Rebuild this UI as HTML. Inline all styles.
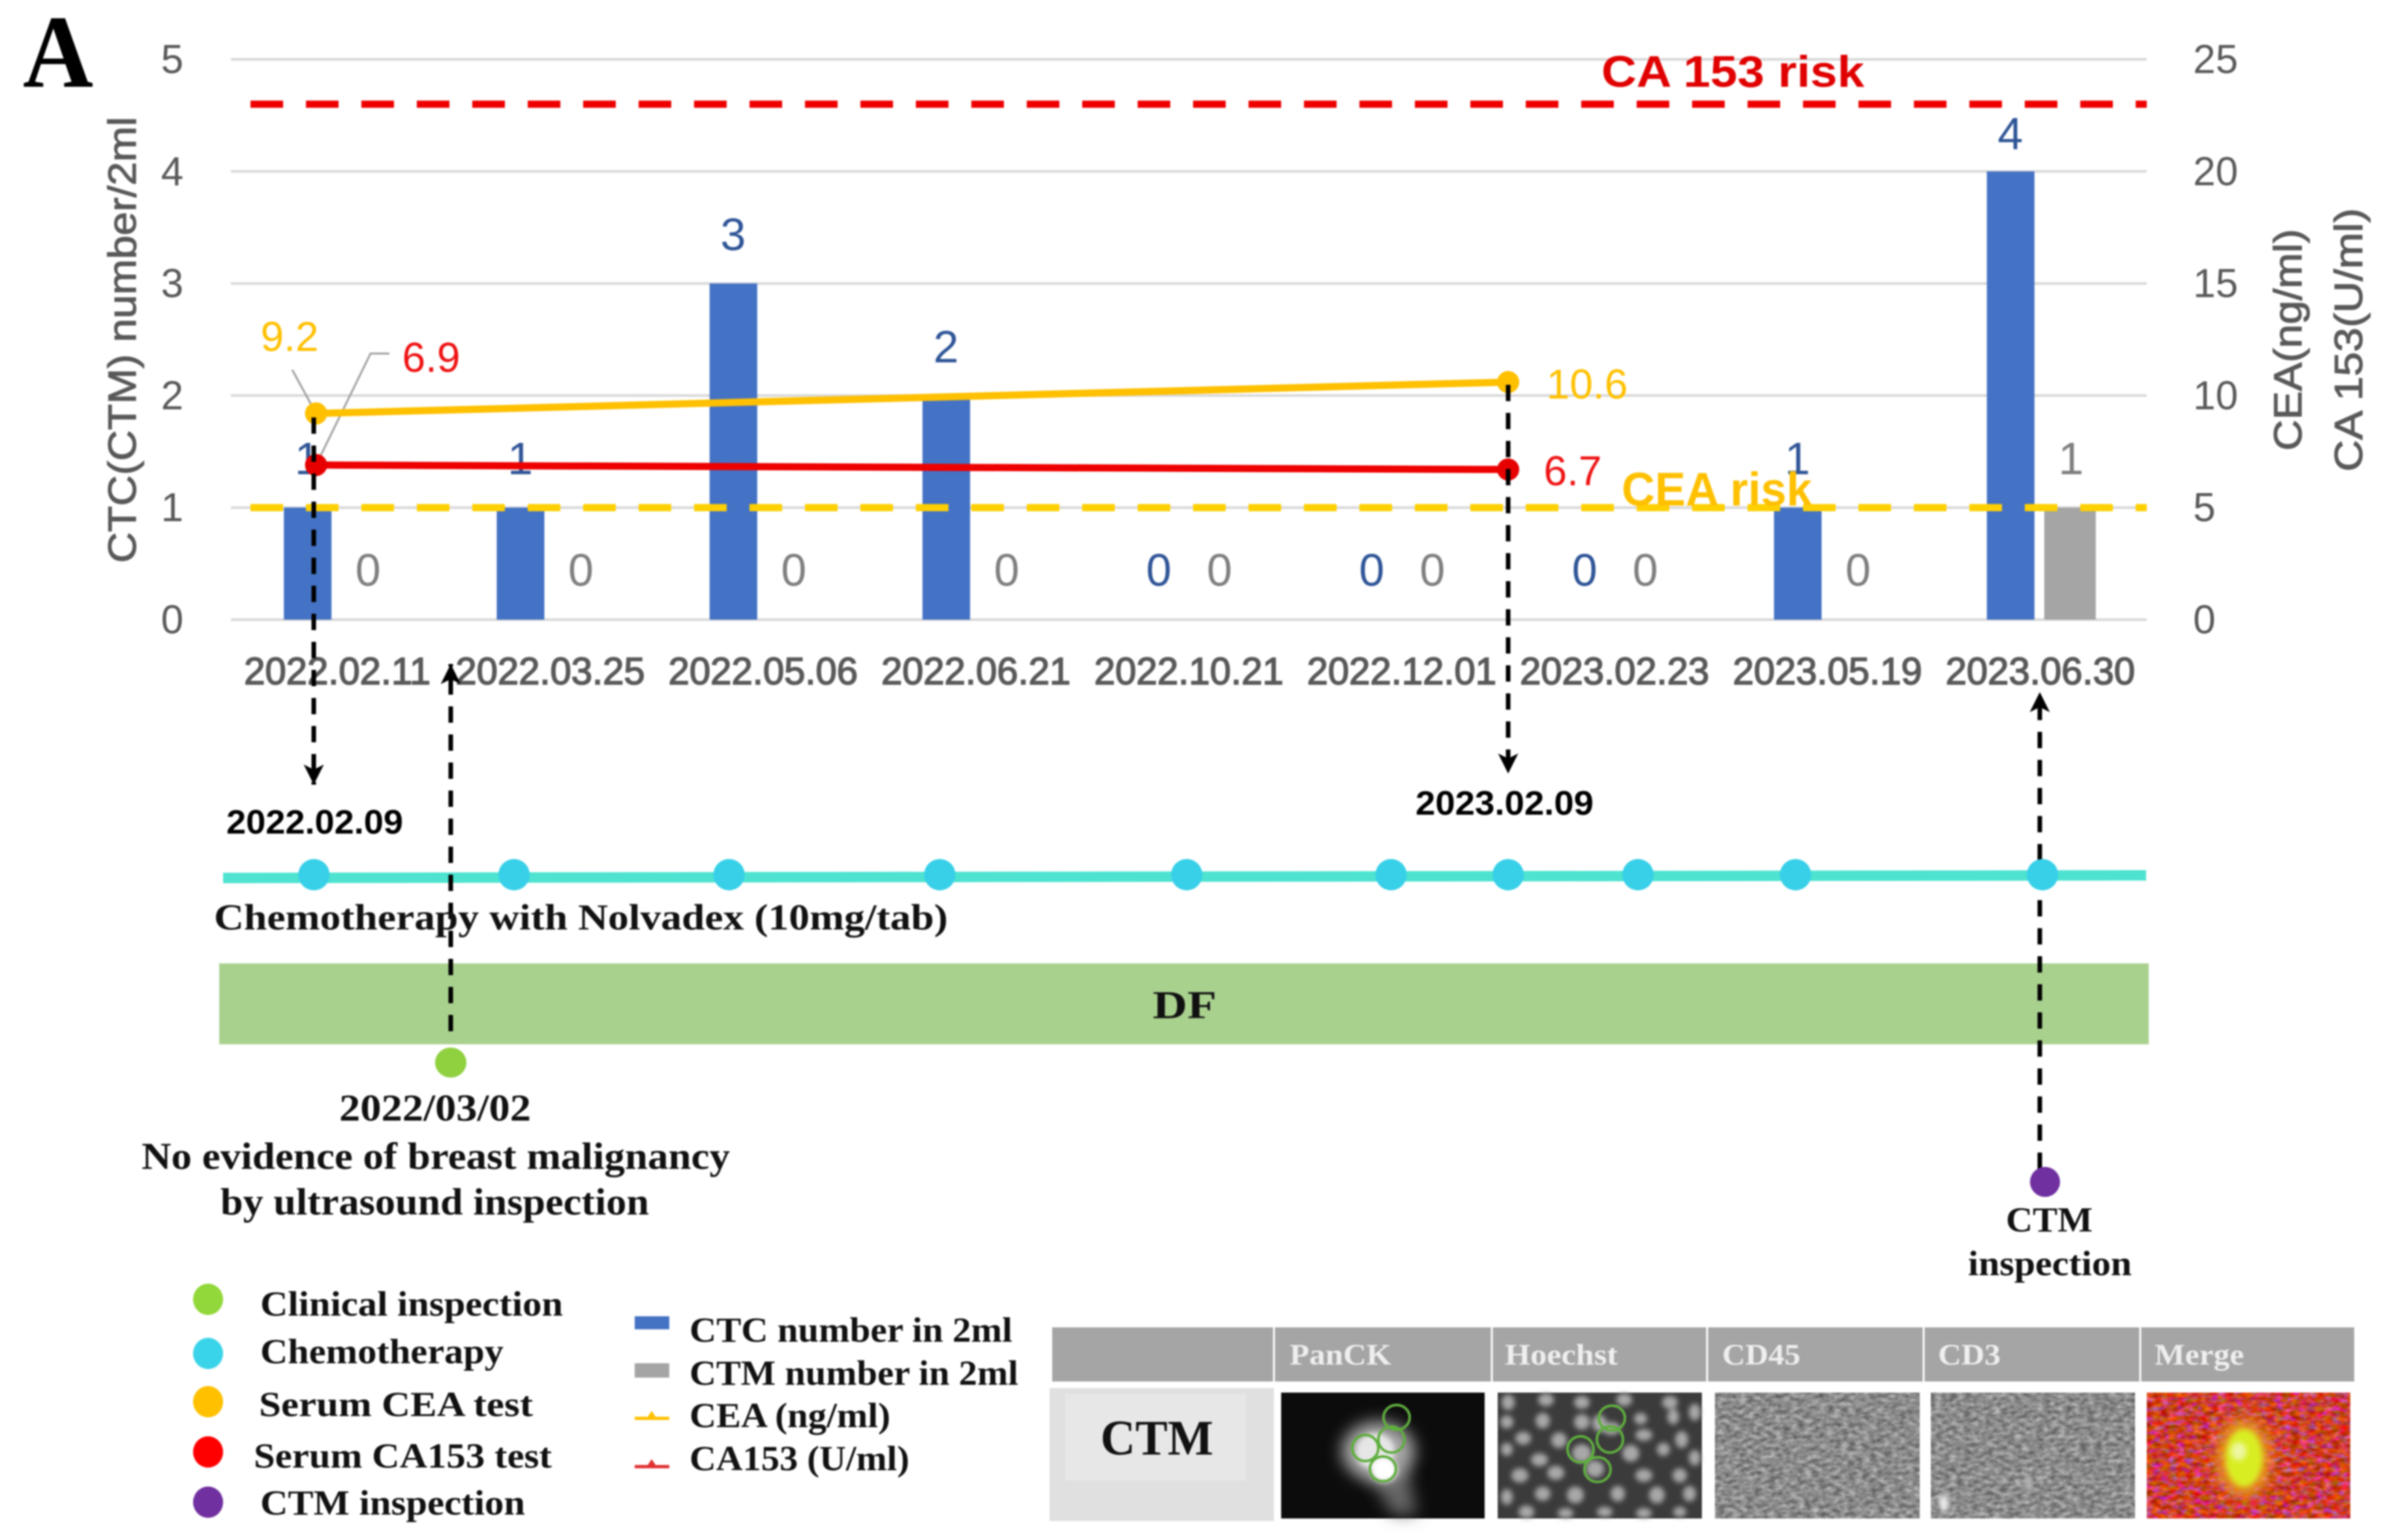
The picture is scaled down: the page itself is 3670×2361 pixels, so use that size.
<!DOCTYPE html>
<html lang="en">
<head>
<meta charset="utf-8">
<title>CTC and CTM timeline chart</title>
<style>
html,body{margin:0;padding:0;background:#fff;}
svg{display:block;filter:blur(1.2px);}
.sans{font-family:"Liberation Sans",sans-serif;}
.serif{font-family:"Liberation Serif",serif;font-weight:bold;fill:#111;}
</style>
</head>
<body>
<svg xmlns="http://www.w3.org/2000/svg" width="3670" height="2361" viewBox="0 0 3670 2361">
<defs>
<filter id="soft" x="-30%" y="-30%" width="160%" height="160%"><feGaussianBlur stdDeviation="4"/></filter>
<filter id="softer" x="-60%" y="-60%" width="220%" height="220%"><feGaussianBlur stdDeviation="12"/></filter>
<filter id="noise-gray" x="0" y="0" width="100%" height="100%" color-interpolation-filters="sRGB">
<feTurbulence type="fractalNoise" baseFrequency="0.09 0.16" numOctaves="2" seed="4"/>
<feColorMatrix type="matrix" values="0.55 0 0 0 0.27 0.55 0 0 0 0.27 0.55 0 0 0 0.27 0 0 0 0 1"/>
</filter>
<filter id="noise-merge" x="0" y="0" width="100%" height="100%" color-interpolation-filters="sRGB">
<feTurbulence type="fractalNoise" baseFrequency="0.08 0.14" numOctaves="2" seed="9"/>
<feColorMatrix type="matrix" values="0.6 0 0 0 0.5 0 0.6 0 0 -0.05 0 0 1.8 0 -0.7 0 0 0 0 1"/>
</filter>
<marker id="arrow-tip" viewBox="0 0 36 42" refX="36" refY="18" markerWidth="42" markerHeight="36" markerUnits="userSpaceOnUse" orient="auto">
<path d="M0 0 L36 18 L0 36 L9 18 Z" fill="#000"/>
</marker>
</defs>
<rect width="3670" height="2361" fill="#fff"/>
<text class="serif" x="35" y="133" font-size="159" textLength="108" lengthAdjust="spacingAndGlyphs" style="fill:#000">A</text>

<g id="chart"></g>

<g class="sans" fill="#595959" stroke="#595959" stroke-width="1.2" font-size="60" text-anchor="middle">
<text transform="translate(187,521) rotate(-90)" dy="21" textLength="684" lengthAdjust="spacingAndGlyphs">CTC(CTM) number/2ml</text>
<text transform="translate(3507,521) rotate(-90)" dy="21" textLength="340" lengthAdjust="spacingAndGlyphs">CEA(ng/ml)</text>
<text transform="translate(3600,521) rotate(-90)" dy="21" textLength="404" lengthAdjust="spacingAndGlyphs">CA 153(U/ml)</text>
</g>

<rect x="336" y="1477" width="2958" height="124" fill="#A9D18E"/>
<text class="serif" x="1767" y="1561" font-size="60" textLength="98" lengthAdjust="spacingAndGlyphs">DF</text>
<path d="M342 1346 L3290 1342" stroke="#4DE3D0" stroke-width="16" fill="none"/>

<g fill="none" stroke="#000" stroke-width="7" stroke-dasharray="25 18">
<path d="M481 640 L481 1203" marker-end="url(#arrow-tip)"/>
<path d="M2312 590 L2312 1186" marker-end="url(#arrow-tip)"/>
<path d="M691 1581 L691 1018" marker-end="url(#arrow-tip)"/>
<path d="M3127 1792 L3127 1061" marker-end="url(#arrow-tip)"/>
</g>
<g id="chemo-dots"></g>

<g class="sans" font-weight="bold" font-size="52" fill="#000">
<text x="347" y="1278" textLength="271" lengthAdjust="spacingAndGlyphs">2022.02.09</text>
<text x="2170" y="1249" textLength="273" lengthAdjust="spacingAndGlyphs">2023.02.09</text>
</g>

<text class="serif" x="328" y="1425" font-size="56" textLength="1125" lengthAdjust="spacingAndGlyphs">Chemotherapy with Nolvadex (10mg/tab)</text>
<ellipse cx="691" cy="1629" rx="24" ry="23" fill="#8FD13F"/>
<text class="serif" x="520" y="1718" font-size="58" textLength="294" lengthAdjust="spacingAndGlyphs">2022/03/02</text>
<text class="serif" x="217" y="1792" font-size="58" textLength="902" lengthAdjust="spacingAndGlyphs">No evidence of breast malignancy</text>
<text class="serif" x="338" y="1862" font-size="58" textLength="657" lengthAdjust="spacingAndGlyphs">by ultrasound inspection</text>
<circle cx="3135" cy="1812" r="23" fill="#7030A0"/>
<text class="serif" x="3075" y="1888" font-size="54" textLength="133" lengthAdjust="spacingAndGlyphs">CTM</text>
<text class="serif" x="3017" y="1955" font-size="54" textLength="251" lengthAdjust="spacingAndGlyphs">inspection</text>

<g>
<ellipse cx="319" cy="1992" rx="23" ry="24" fill="#92D83A"/>
<text class="serif" x="399" y="2017" font-size="54" textLength="464" lengthAdjust="spacingAndGlyphs">Clinical inspection</text>
<ellipse cx="319" cy="2075" rx="23" ry="24" fill="#3AD4EA"/>
<text class="serif" x="399" y="2090" font-size="54" textLength="373" lengthAdjust="spacingAndGlyphs">Chemotherapy</text>
<ellipse cx="319" cy="2149" rx="23" ry="24" fill="#FFC000"/>
<text class="serif" x="397" y="2171" font-size="54" textLength="420" lengthAdjust="spacingAndGlyphs">Serum CEA test</text>
<ellipse cx="319" cy="2226" rx="23" ry="24" fill="#FF0000"/>
<text class="serif" x="389" y="2250" font-size="54" textLength="457" lengthAdjust="spacingAndGlyphs">Serum CA153 test</text>
<ellipse cx="319" cy="2303" rx="23" ry="24" fill="#7030A0"/>
<text class="serif" x="399" y="2322" font-size="54" textLength="406" lengthAdjust="spacingAndGlyphs">CTM inspection</text>
</g>

<g>
<rect x="973" y="2018" width="53" height="20" fill="#4472C4"/>
<text class="serif" x="1057" y="2057" font-size="54" textLength="495" lengthAdjust="spacingAndGlyphs">CTC number in 2ml</text>
<rect x="973" y="2090" width="53" height="22" fill="#A5A5A5"/>
<text class="serif" x="1057" y="2123" font-size="54" textLength="504" lengthAdjust="spacingAndGlyphs">CTM number in 2ml</text>
<path d="M973 2172 H1026 V2177 H973 Z M993 2172 L999 2163 L1005 2172 Z" fill="#FFC000"/>
<text class="serif" x="1057" y="2188" font-size="54" textLength="308" lengthAdjust="spacingAndGlyphs">CEA (ng/ml)</text>
<path d="M973 2246 H1026 V2251 H973 Z M993 2246 L999 2237 L1005 2246 Z" fill="#E03030"/>
<text class="serif" x="1057" y="2254" font-size="54" textLength="337" lengthAdjust="spacingAndGlyphs">CA153 (U/ml)</text>
</g>

<g>
<rect x="1613" y="2035" width="1996" height="83" fill="#A5A5A5"/>
<g stroke="#fff" stroke-width="3">
<path d="M1953 2035V2118M2287 2035V2118M2617 2035V2118M2949 2035V2118M3281 2035V2118"/>
</g>
<g class="serif" font-size="46" style="fill:#eee">
<text x="1977" y="2092" textLength="156" lengthAdjust="spacingAndGlyphs" style="fill:#eee">PanCK</text>
<text x="2307" y="2092" textLength="173" lengthAdjust="spacingAndGlyphs" style="fill:#eee">Hoechst</text>
<text x="2640" y="2092" textLength="120" lengthAdjust="spacingAndGlyphs" style="fill:#eee">CD45</text>
<text x="2971" y="2092" textLength="96" lengthAdjust="spacingAndGlyphs" style="fill:#eee">CD3</text>
<text x="3303" y="2092" textLength="137" lengthAdjust="spacingAndGlyphs" style="fill:#eee">Merge</text>
</g>
<rect x="1609" y="2128" width="344" height="204" fill="#E0E0E0"/>
<rect x="1633" y="2137" width="277" height="133" fill="#E7E7E7"/>
<text class="serif" x="1687" y="2230" font-size="76" textLength="173" lengthAdjust="spacingAndGlyphs">CTM</text>

<g>
<rect x="1964" y="2135" width="312" height="193" fill="#0c0c0c"/>
<path d="M2085 2240 L2155 2240 L2172 2322 L2135 2322 Z" fill="#666" filter="url(#softer)"/>
<ellipse cx="2113" cy="2225" rx="56" ry="46" fill="#a8a8a8" filter="url(#softer)"/>
<ellipse cx="2108" cy="2225" rx="30" ry="28" fill="#e6e6e6" filter="url(#soft)"/>
<ellipse cx="2122" cy="2254" rx="20" ry="18" fill="#fff" filter="url(#soft)"/>
<g fill="none" stroke="#5FAE3E" stroke-width="4">
<ellipse cx="2141" cy="2173" rx="20" ry="19"/>
<ellipse cx="2133" cy="2207" rx="20" ry="20"/>
<ellipse cx="2093" cy="2220" rx="20" ry="20"/>
<ellipse cx="2120" cy="2252" rx="20" ry="19"/>
</g>
</g>

<g>
<rect x="2296" y="2135" width="313" height="193" fill="#3b3b3b"/>
<g fill="#a8a8a8" filter="url(#soft)">
<ellipse cx="2312" cy="2150" rx="10" ry="12"/><ellipse cx="2370" cy="2146" rx="12" ry="10"/><ellipse cx="2425" cy="2150" rx="12" ry="10"/><ellipse cx="2490" cy="2146" rx="12" ry="10"/><ellipse cx="2560" cy="2150" rx="12" ry="10"/><ellipse cx="2598" cy="2165" rx="9" ry="13"/>
<ellipse cx="2310" cy="2180" rx="10" ry="10"/><ellipse cx="2365" cy="2178" rx="11" ry="12"/><ellipse cx="2425" cy="2180" rx="12" ry="12"/><ellipse cx="2452" cy="2182" rx="11" ry="13"/><ellipse cx="2515" cy="2175" rx="10" ry="9"/><ellipse cx="2565" cy="2172" rx="9" ry="12"/>
<ellipse cx="2335" cy="2205" rx="12" ry="10"/><ellipse cx="2390" cy="2208" rx="12" ry="12"/><ellipse cx="2470" cy="2190" rx="14" ry="10"/><ellipse cx="2520" cy="2200" rx="13" ry="9"/><ellipse cx="2578" cy="2207" rx="10" ry="13"/>
<ellipse cx="2310" cy="2222" rx="9" ry="10"/><ellipse cx="2360" cy="2238" rx="13" ry="10"/><ellipse cx="2425" cy="2228" rx="15" ry="14"/><ellipse cx="2500" cy="2228" rx="13" ry="13"/><ellipse cx="2550" cy="2222" rx="10" ry="10"/><ellipse cx="2598" cy="2235" rx="9" ry="12"/>
<ellipse cx="2330" cy="2262" rx="13" ry="11"/><ellipse cx="2385" cy="2258" rx="13" ry="11"/><ellipse cx="2445" cy="2252" rx="14" ry="13"/><ellipse cx="2520" cy="2262" rx="13" ry="10"/><ellipse cx="2575" cy="2262" rx="11" ry="11"/>
<ellipse cx="2310" cy="2295" rx="9" ry="12"/><ellipse cx="2365" cy="2290" rx="12" ry="11"/><ellipse cx="2415" cy="2292" rx="13" ry="13"/><ellipse cx="2480" cy="2290" rx="11" ry="12"/><ellipse cx="2540" cy="2292" rx="12" ry="13"/><ellipse cx="2590" cy="2290" rx="10" ry="12"/>
<ellipse cx="2340" cy="2318" rx="12" ry="10"/><ellipse cx="2400" cy="2320" rx="12" ry="8"/><ellipse cx="2460" cy="2318" rx="12" ry="8"/><ellipse cx="2520" cy="2320" rx="12" ry="8"/><ellipse cx="2575" cy="2318" rx="10" ry="8"/>
</g>
<g fill="none" stroke="#5FAE3E" stroke-width="4">
<ellipse cx="2471" cy="2174" rx="20" ry="19"/>
<ellipse cx="2468" cy="2207" rx="20" ry="20"/>
<ellipse cx="2423" cy="2222" rx="20" ry="20"/>
<ellipse cx="2449" cy="2253" rx="20" ry="19"/>
</g>
</g>

<rect x="2629" y="2135" width="314" height="193" fill="#888" filter="url(#noise-gray)"/>
<g>
<rect x="2960" y="2135" width="313" height="193" fill="#888" filter="url(#noise-gray)"/>
<ellipse cx="2980" cy="2305" rx="7" ry="14" fill="#eee" filter="url(#soft)"/>
<ellipse cx="3110" cy="2275" rx="5" ry="14" fill="#bbb" filter="url(#soft)"/>
</g>
<g>
<rect x="3291" y="2135" width="312" height="193" fill="#C8401F" filter="url(#noise-merge)"/>
<ellipse cx="3440" cy="2235" rx="42" ry="60" fill="#E8A020" filter="url(#softer)"/>
<ellipse cx="3440" cy="2235" rx="28" ry="44" fill="#D8EE20" filter="url(#soft)"/>
<ellipse cx="3432" cy="2225" rx="12" ry="14" fill="#EEF7A0" filter="url(#soft)"/>
</g>
</g>

<script>
const categories = ['2022.02.11','2022.03.25','2022.05.06','2022.06.21','2022.10.21','2022.12.01','2023.02.23','2023.05.19','2023.06.30'];
const ctcValues = [1,1,3,2,0,0,0,1,4];
const ctmValues = [0,0,0,0,0,0,0,0,1];
const leftTicks = [0,1,2,3,4,5];
const rightTicks = [0,5,10,15,20,25];
const testPositions = [-0.1,5.5];
const ceaValues = [9.2,10.6];
const ca153Values = [6.9,6.7];
const ceaRisk = 5;
const ca153Risk = 23;
const chemoPositions = [-0.11,0.83,1.84,2.83,3.99,4.95,5.5,6.11,6.85,8.01];

const NS = 'http://www.w3.org/2000/svg';
const chart = document.getElementById('chart');
const PLOT = {left:354, right:3291, bottom:950, top:91};
const catW = (PLOT.right - PLOT.left) / categories.length;
function xCat(i){ return PLOT.left + catW * (i + 0.5); }
function yLeft(v){ return PLOT.bottom - (PLOT.bottom - PLOT.top) * v / 5; }
function yRight(v){ return PLOT.bottom - (PLOT.bottom - PLOT.top) * v / 25; }
function make(tag, attrs, parent, txt){
  const n = document.createElementNS(NS, tag);
  for (const k in attrs) n.setAttribute(k, attrs[k]);
  if (txt !== undefined) n.textContent = txt;
  (parent || chart).appendChild(n);
  return n;
}
const SANS = '"Liberation Sans",sans-serif';
let el;

leftTicks.forEach(function(t){
  el = make('line',{x1:PLOT.left,x2:PLOT.right,y1:yLeft(t),y2:yLeft(t),stroke:'#D9D9D9','stroke-width':4});
  
  
  el = make('text',{x:264,y:yLeft(t)+21,'text-anchor':'middle','font-family':SANS,'font-size':62,fill:'#595959'},chart,String(t));
  
  
});
rightTicks.forEach(function(t){
  el = make('text',{x:3362,y:yRight(t)+21,'font-family':SANS,'font-size':62,fill:'#595959'},chart,String(t));
  
  
});
categories.forEach(function(c,i){
  const cx = xCat(i);
  el = make('text',{x:cx,y:1049,'text-anchor':'middle','font-family':SANS,'font-size':58,fill:'#595959',stroke:'#595959','stroke-width':1.8},chart,c);
  
  
  const blue = ctcValues[i], gray = ctmValues[i];
  if (blue > 0){
    el = make('rect',{x:cx-82,y:yLeft(blue),width:73,height:yLeft(0)-yLeft(blue),fill:'#4472C4'});
    
    
  }
  if (gray > 0){
    el = make('rect',{x:cx+6,y:yLeft(gray),width:79,height:yLeft(0)-yLeft(gray),fill:'#A5A5A5'});
    
    
  }
  const blueY = blue > 0 ? yLeft(blue) - (blue >= 4 ? 58 : 75) : 874;
  el = make('text',{x:cx-46,y:blueY+24,'text-anchor':'middle','font-family':SANS,'font-size':70,fill:'#2F5597'},chart,String(blue));
  
  
  const grayY = gray > 0 ? yLeft(gray) - 75 : 874;
  el = make('text',{x:cx+47,y:grayY+24,'text-anchor':'middle','font-family':SANS,'font-size':70,fill:'#7F7F7F'},chart,String(gray));
  
  
});

el = make('line',{x1:384,x2:PLOT.right,y1:yRight(ca153Risk),y2:yRight(ca153Risk),stroke:'#EE0000','stroke-width':11,'stroke-dasharray':'50 35'});


el = make('line',{x1:384,x2:PLOT.right,y1:yRight(ceaRisk),y2:yRight(ceaRisk),stroke:'#FFD000','stroke-width':11,'stroke-dasharray':'50 35'});


el = make('text',{x:2455,y:133,'font-family':SANS,'font-weight':'bold','font-size':68,fill:'#E00000',textLength:403,lengthAdjust:'spacingAndGlyphs'},chart,'CA 153 risk');


el = make('text',{x:2486,y:775,'font-family':SANS,'font-weight':'bold','font-size':72,fill:'#FFC000',textLength:292,lengthAdjust:'spacingAndGlyphs'},chart,'CEA risk');



el = make('polyline',{points:[[448,567],[xCat(testPositions[0]),yRight(ceaValues[0])]].join(' '),fill:'none',stroke:'#A0A0A0','stroke-width':3});


el = make('polyline',{points:[[597,542],[568,542],[xCat(testPositions[0]),yRight(ca153Values[0])]].join(' '),fill:'none',stroke:'#A0A0A0','stroke-width':3});



el = make('polyline',{points:ceaValues.map(function(v,i){return xCat(testPositions[i])+','+yRight(v);}).join(' '),fill:'none',stroke:'#FFC000','stroke-width':11});


el = make('polyline',{points:ca153Values.map(function(v,i){return xCat(testPositions[i])+','+yRight(v);}).join(' '),fill:'none',stroke:'#EE0000','stroke-width':11});


ceaValues.forEach(function(v,i){
  el = make('circle',{cx:xCat(testPositions[i]),cy:yRight(v),r:17,fill:'#FFC000'});
  
  
});
ca153Values.forEach(function(v,i){
  el = make('circle',{cx:xCat(testPositions[i]),cy:yRight(v),r:17,fill:'#E60000'});
  
  
});
const ceaLabelX = [444,2433], ceaLabelDy = [-118,3];
ceaValues.forEach(function(v,i){
  el = make('text',{x:ceaLabelX[i],y:yRight(v)+ceaLabelDy[i]+22,'text-anchor':'middle','font-family':SANS,'font-size':64,fill:'#FFC000'},chart,v.toFixed(1));
  
  
});
const caLabelX = [661,2411], caLabelDy = [-165,2];
ca153Values.forEach(function(v,i){
  el = make('text',{x:caLabelX[i],y:yRight(v)+caLabelDy[i]+22,'text-anchor':'middle','font-family':SANS,'font-size':64,fill:'#EE1111'},chart,v.toFixed(1));
  
  
});

const chemoGroup = document.getElementById('chemo-dots');
chemoPositions.forEach(function(p){
  el = make('circle',{cx:xCat(p),cy:1341,r:24,fill:'#37D0E8'},chemoGroup);
  
  
});
</script>
</svg>
</body>
</html>
